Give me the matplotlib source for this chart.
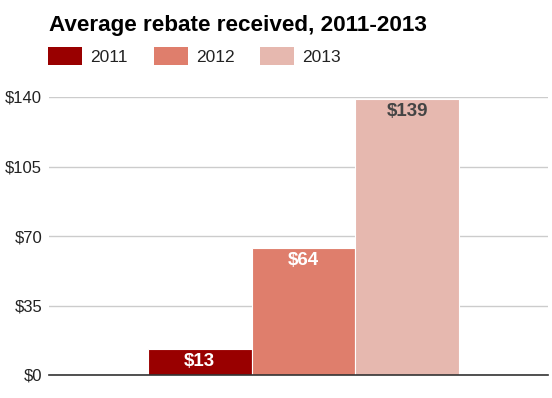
import matplotlib
matplotlib.use("Agg")
import matplotlib.pyplot as plt
from matplotlib.patches import Rectangle

# data
years = ["2011", "2012", "2013"]
rebates = [13, 64, 139]
colors = ["#990000", "#df7e6c", "#e6b8af"]
label_colors = ["white", "white", "#444444"]
yticks = [0, 35, 70, 105, 140]
ytick_labels = ["$0", "$35", "$70", "$105", "$140"]

plt.rcParams["font.family"] = ["Liberation Sans", "DejaVu Sans"]

W, H = 552, 398
fig = plt.figure(figsize=(W / 100, H / 100), dpi=100)
ax = fig.add_axes([49 / W, (H - 375) / H, (548 - 49) / W, (375 - 97) / H])

xs = [-1, 0, 1]
bars = ax.bar(xs, rebates, width=1.0, color=colors, edgecolor="white", linewidth=0.8, zorder=3)
for x, v, c in zip(xs, rebates, label_colors):
    ax.annotate(f"${v}", xy=(x, v), xytext=(0, -3), textcoords="offset points",
                ha="center", va="top", fontsize=13.5, fontweight="bold", color=c, zorder=4)

ax.set_xlim(-2.455, 2.36)
ax.set_ylim(0, 140)
ax.set_yticks(yticks)
ax.set_yticklabels(ytick_labels, fontsize=12, color="#222222")
ax.set_xticks([])
ax.tick_params(axis="y", length=0, pad=5)
ax.grid(axis="y", color="#cccccc", linewidth=1, zorder=0)
for s in ["left", "right", "top"]:
    ax.spines[s].set_visible(False)
ax.spines["bottom"].set_color("#333333")
ax.spines["bottom"].set_linewidth(1.2)
ax.spines["bottom"].set_zorder(5)

# title
fig.text(49 / W, 1 - 31 / H, "Average rebate received, 2011-2013", fontsize=16.2,
         fontweight="bold", color="black", ha="left", va="baseline")

# legend
box_x = [48, 154, 260]
for bx, yr, c in zip(box_x, years, colors):
    fig.add_artist(Rectangle((bx / W, 1 - 65 / H), 34 / W, 18 / H, transform=fig.transFigure,
                             facecolor=c, edgecolor="none"))
    fig.text((bx + 42) / W, 1 - 62 / H, yr, fontsize=12.5, color="#222222",
             ha="left", va="baseline")

fig.savefig("out.png", dpi=100)
